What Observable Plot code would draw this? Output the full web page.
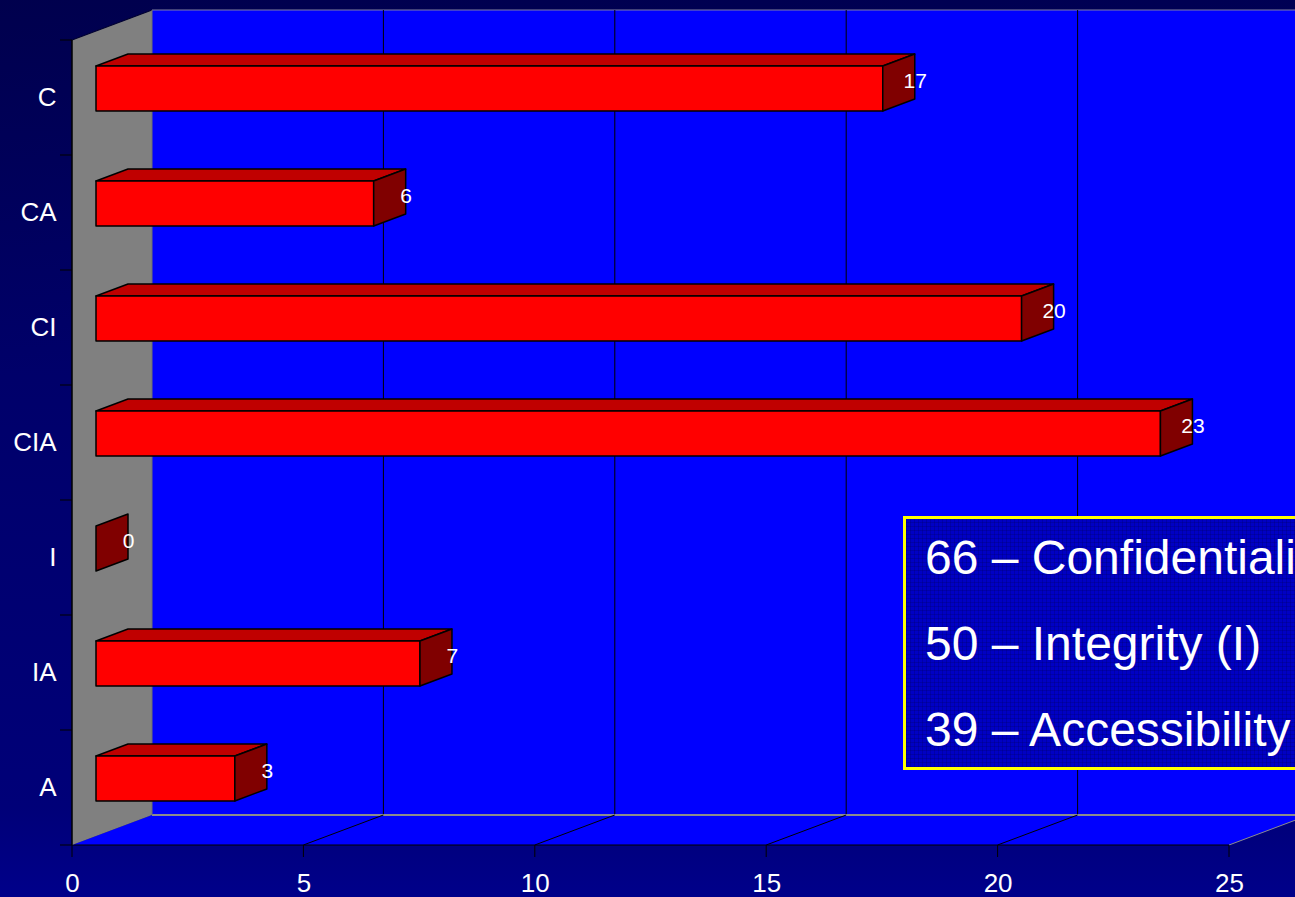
<!DOCTYPE html>
<html>
<head>
<meta charset="utf-8">
<script src="https://cdn.jsdelivr.net/npm/d3@7"></script>
<script src="https://cdn.jsdelivr.net/npm/@observablehq/plot@0.6"></script>
<style>
  html, body { margin: 0; padding: 0; width: 1295px; height: 897px; overflow: hidden; }
  body {
    background:
      linear-gradient(172deg, rgba(0,0,40,0.25) 0%, rgba(0,0,0,0) 35%),
      linear-gradient(180deg, #00005a 0%, #000066 30%, #000070 60%, #000078 90%, #00008a 100%);
    font-family: "Liberation Sans", Arial, sans-serif;
    position: relative;
  }
  #chart { position: absolute; left: 0; top: 0; }
  #legend {
    position: absolute; left: 903px; top: 516px; width: 420px; height: 248px;
    border: 3px solid #ffff00; background: #0000c4;
    box-sizing: content-box; color: #fff; font-size: 48px;
    background-image:
      repeating-linear-gradient(0deg, rgba(0,0,90,0.25) 0 1px, transparent 1px 4px),
      repeating-linear-gradient(90deg, rgba(0,0,90,0.25) 0 1px, transparent 1px 4px);
  }
  #legend div { position: absolute; left: 19px; white-space: nowrap; line-height: 1; }
</style>
</head>
<body>
<div id="chart"></div>
<div id="legend"></div>
<script>
// ---- data ----
const categories = ["C", "CA", "CI", "CIA", "I", "IA", "A"];
const counts = [17, 6, 20, 23, 0, 7, 3];
const xTicks = [0, 5, 10, 15, 20, 25];
const legendTotals = [66, 50, 39];
const legendNames = ["Confidentiality (C)", "Integrity (I)", "Accessibility (A)"];

const rows = categories.map((c, i) => ({category: c, value: counts[i]}));

// ---- 3D styling constants ----
const DEPTH_X = 80, DEPTH_Y = 30;      // projection of full depth
const BAR_D0 = 0.3, BAR_D1 = 0.7;      // bar depth span
const BAR_FRAC = 0.39;                 // bar thickness / band
const C_FRONT = "#ff0000", C_TOP = "#c00000", C_SIDE = "#800000";
const C_WALL = "#0000ff", C_LEFT = "#808080";

const svgNS = "http://www.w3.org/2000/svg";
function el(tag, attrs) {
  const e = document.createElementNS(svgNS, tag);
  for (const k in attrs) e.setAttribute(k, attrs[k]);
  return e;
}
const P = (px, py, d) => [px + d * DEPTH_X, py - d * DEPTH_Y];
const poly = (pts, fill, stroke, sw) =>
  el("polygon", {points: pts.map(p => p.join(",")).join(" "), fill, stroke: stroke || "none", "stroke-width": sw || 1, "stroke-linejoin": "round"});
const line = (a, b, stroke, sw) =>
  el("line", {x1: a[0], y1: a[1], x2: b[0], y2: b[1], stroke, "stroke-width": sw || 1});

// frame: walls, floor, grid, ticks
function frame(index, scales) {
  const x = scales.x, y = scales.y;
  const bw = y.bandwidth();
  const [d0, d1] = x.domain();
  const x0 = x(d0), x1 = x(d1);
  const top = y(categories[0]), bottom = y(categories[categories.length - 1]) + bw;
  const g = el("g", {});
  // back wall
  g.appendChild(poly([P(x0, top, 1), P(x1, top, 1), P(x1, bottom, 1), P(x0, bottom, 1)], C_WALL));
  g.appendChild(line(P(x0, top, 1), P(x1, top, 1), "#8080a0", 1));
  for (const t of xTicks) if (t > d0 && t < d1) g.appendChild(line(P(x(t), top, 1), P(x(t), bottom, 1), "#000000", 1));
  // floor
  g.appendChild(poly([P(x0, bottom, 0), P(x1, bottom, 0), P(x1, bottom, 1), P(x0, bottom, 1)], C_WALL));
  g.appendChild(line(P(x0, bottom, 1), P(x1, bottom, 1), "#8c8c8c", 2));
  for (const t of xTicks) if (t > d0) g.appendChild(line(P(x(t), bottom, 0), P(x(t), bottom, 1), t < d1 ? "#000000" : "#8c8c8c", 1));
  g.appendChild(line(P(x0, bottom, 0), P(x1, bottom, 0), "#000000", 1.2));
  // left wall
  g.appendChild(poly([P(x0, top, 0), P(x0, top, 1), P(x0, bottom, 1), P(x0, bottom, 0)], C_LEFT));
  g.appendChild(line(P(x0, top, 0), P(x0, top, 1), "#000030", 1.2));
  g.appendChild(line(P(x0, top, 1), P(x0, bottom, 1), "#707070", 1));
  g.appendChild(line(P(x0, top, 0), P(x0, bottom, 0), "#000000", 1.5));
  // y ticks at band edges
  const edges = categories.map(c => y(c)).concat([bottom]);
  for (const e of edges) g.appendChild(line([x0 - 12, e], [x0, e], "#000000", 1));
  // x ticks
  for (const t of xTicks) g.appendChild(line([x(t), bottom], [x(t), bottom + 12], "#000000", 1));
  return g;
}

// 3D bars
function bars(index, scales) {
  const x = scales.x, y = scales.y;
  const bw = y.bandwidth();
  const g = el("g", {});
  for (const r of rows) {
    const yc = y(r.category) + bw / 2, h = bw * BAR_FRAC;
    const yt = yc - h / 2, yb = yc + h / 2;
    const xa = x(0), xb = x(r.value);
    if (r.value > 0) {
      g.appendChild(poly([P(xa, yt, BAR_D0), P(xb, yt, BAR_D0), P(xb, yt, BAR_D1), P(xa, yt, BAR_D1)], C_TOP, "#000", 1.5));
      g.appendChild(poly([P(xa, yt, BAR_D0), P(xb, yt, BAR_D0), P(xb, yb, BAR_D0), P(xa, yb, BAR_D0)], C_FRONT, "#000", 1.5));
    }
    g.appendChild(poly([P(xb, yt, BAR_D0), P(xb, yt, BAR_D1), P(xb, yb, BAR_D1), P(xb, yb, BAR_D0)], C_SIDE, "#000", 1.5));
  }
  return g;
}

const chart = Plot.plot({
  width: 1295,
  height: 897,
  marginLeft: 72,
  marginRight: 66,
  marginTop: 38,
  marginBottom: 50,
  style: {background: "transparent", color: "#ffffff", fontFamily: "'Liberation Sans', Arial, sans-serif", fontSize: "26px", overflow: "hidden"},
  x: {domain: [0, 25], ticks: xTicks, tickSize: 0, tickPadding: 26, tickFormat: d => String(d), label: null},
  y: {type: "band", domain: categories, padding: 0, tickSize: 0, tickPadding: 16, label: null},
  marks: [
    frame,
    bars,
    Plot.text(rows, {
      x: "value", y: "category", text: d => String(d.value),
      dx: BAR_D1 * DEPTH_X, dy: -((BAR_D0 + BAR_D1) / 2) * DEPTH_Y - 2,
      fill: "#ffffff", fontSize: 21, textAnchor: "middle"
    })
  ]
});
document.getElementById("chart").appendChild(chart);

// annotation box
const legend = document.getElementById("legend");
const tops = [15, 101, 187];
legendTotals.forEach((n, i) => {
  const d = document.createElement("div");
  d.style.top = tops[i] + "px";
  d.textContent = `${n} – ${legendNames[i]}`;
  legend.appendChild(d);
});
</script>
</body>
</html>
